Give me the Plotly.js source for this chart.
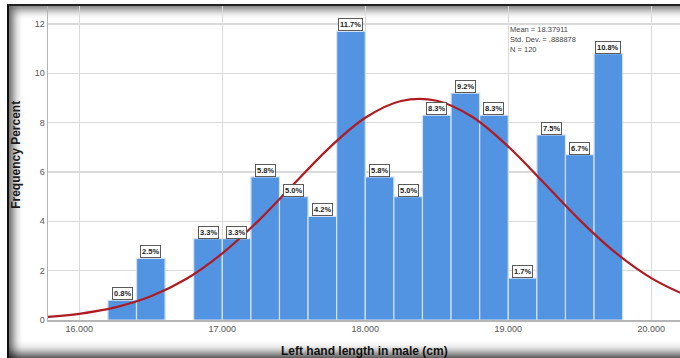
<!DOCTYPE html>
<html>
<head>
<meta charset="utf-8">
<script src="https://cdn.plot.ly/plotly-3.0.1.min.js"></script>
<style>
  html, body { margin: 0; padding: 0; background: #fff; width: 680px; height: 358px; overflow: hidden; }
  #frame {
    position: absolute; left: 7px; top: 4px; width: 700px; height: 358px;
    border-left: 2px solid #111; border-top: 2px solid #222;
    background: #fff;
    box-shadow: inset 8px 7px 9px -3px rgba(0,0,0,0.55), inset 0 -16px 12px -6px rgba(0,0,0,0.85);
  }
  #chart { position: absolute; left: 0; top: 0; width: 680px; height: 358px; z-index: 2; }
</style>
</head>
<body>
<div id="frame"></div>
<div id="chart"></div>
<script>
// Histogram bins (centre of each 0.2 cm bin) and percent of cases in each bin
const binCenters = [16.3, 16.5, 16.9, 17.1, 17.3, 17.5, 17.7, 17.9, 18.1, 18.3, 18.5, 18.7, 18.9, 19.1, 19.3, 19.5, 19.7];
const percents   = [0.8, 2.5, 3.3, 3.3, 5.8, 5.0, 4.2, 11.7, 5.8, 5.0, 8.3, 9.2, 8.3, 1.7, 7.5, 6.7, 10.8];
const binWidth = 0.2;

// Fitted normal curve, in percent per bin
const curveX = [15.75, 16.0, 16.25, 16.5, 16.75, 17.0, 17.25, 17.5, 17.75, 18.0, 18.25, 18.5, 18.75, 19.0, 19.25, 19.5, 19.75, 20.0, 20.25];
const curveY = [0.11, 0.25, 0.51, 0.96, 1.67, 2.70, 4.01, 5.51, 6.99, 8.20, 8.88, 8.89, 8.23, 7.03, 5.55, 4.05, 2.73, 1.70, 0.98];

// Summary statistics box
const statLines = ['Mean = 18.37911', 'Std. Dev. = .888878', 'N = 120'];

const xTicks = [16, 17, 18, 19, 20];
const yTicks = [0, 2, 4, 6, 8, 10, 12];

const labelFont = { family: 'Liberation Sans, Arial, sans-serif', size: 7.5, color: '#222' };

const barLabels = binCenters.map((x, i) => ({
  x: x, y: percents[i], xref: 'x', yref: 'y',
  text: '<b>' + percents[i].toFixed(1) + '%</b>',
  showarrow: false, yanchor: 'bottom', xanchor: 'center',
  bgcolor: '#ffffff', bordercolor: '#5a5a5a', borderwidth: 1, borderpad: 1,
  font: labelFont
}));

const statNote = {
  x: 0.728, y: 0.945, xref: 'paper', yref: 'paper',
  text: statLines.join('<br>'), showarrow: false, xanchor: 'left', yanchor: 'top', align: 'left',
  font: { family: 'Liberation Sans, Arial, sans-serif', size: 7.5, color: '#444' }
};

const titles = [
  { x: 0.5, y: -0.100, xref: 'paper', yref: 'paper', showarrow: false,
    text: '<b>Left hand length in male (cm)</b>', xanchor: 'center', yanchor: 'middle',
    font: { family: 'Liberation Sans, Arial, sans-serif', size: 12, color: '#111' } },
  { x: -0.0506, y: 0.526, xref: 'paper', yref: 'paper', showarrow: false, textangle: -90,
    text: '<b>Frequency Percent</b>', xanchor: 'center', yanchor: 'middle',
    font: { family: 'Liberation Sans, Arial, sans-serif', size: 12, color: '#1a1a1a' } }
];

const traces = [
  {
    type: 'bar', x: binCenters, y: percents, width: binWidth,
    marker: { color: 'rgb(82,147,226)', line: { color: '#d4e2f3', width: 1.2 } },
    hoverinfo: 'skip'
  },
  {
    type: 'scatter', mode: 'lines', x: curveX, y: curveY,
    line: { color: '#ae1b22', width: 2.2, shape: 'spline' },
    hoverinfo: 'skip'
  }
];

const axisFont = { family: 'Liberation Sans, Arial, sans-serif', size: 9, color: '#555' };

const layout = {
  width: 680, height: 358,
  margin: { l: 48, r: 0, t: 6, b: 37.5 },
  paper_bgcolor: 'rgba(0,0,0,0)',
  plot_bgcolor: 'rgba(0,0,0,0)',
  showlegend: false,
  bargap: 0,
  xaxis: {
    range: [15.781, 20.201], tickvals: xTicks, tickformat: '.3f',
    showgrid: true, gridcolor: '#dadada', gridwidth: 1.5,
    showline: true, linecolor: '#b5b5b5', linewidth: 1.5,
    zeroline: false, ticks: '', tickfont: axisFont, fixedrange: true
  },
  yaxis: {
    range: [0, 12.73], tickvals: yTicks,
    showgrid: true, gridcolor: '#dadada', gridwidth: 1.5,
    showline: true, linecolor: '#b5b5b5', linewidth: 1.5,
    zeroline: false, ticks: '', tickfont: axisFont, fixedrange: true
  },
  annotations: barLabels.concat([statNote], titles)
};

Plotly.newPlot('chart', traces, layout, { staticPlot: true, displayModeBar: false });
</script>
</body>
</html>
